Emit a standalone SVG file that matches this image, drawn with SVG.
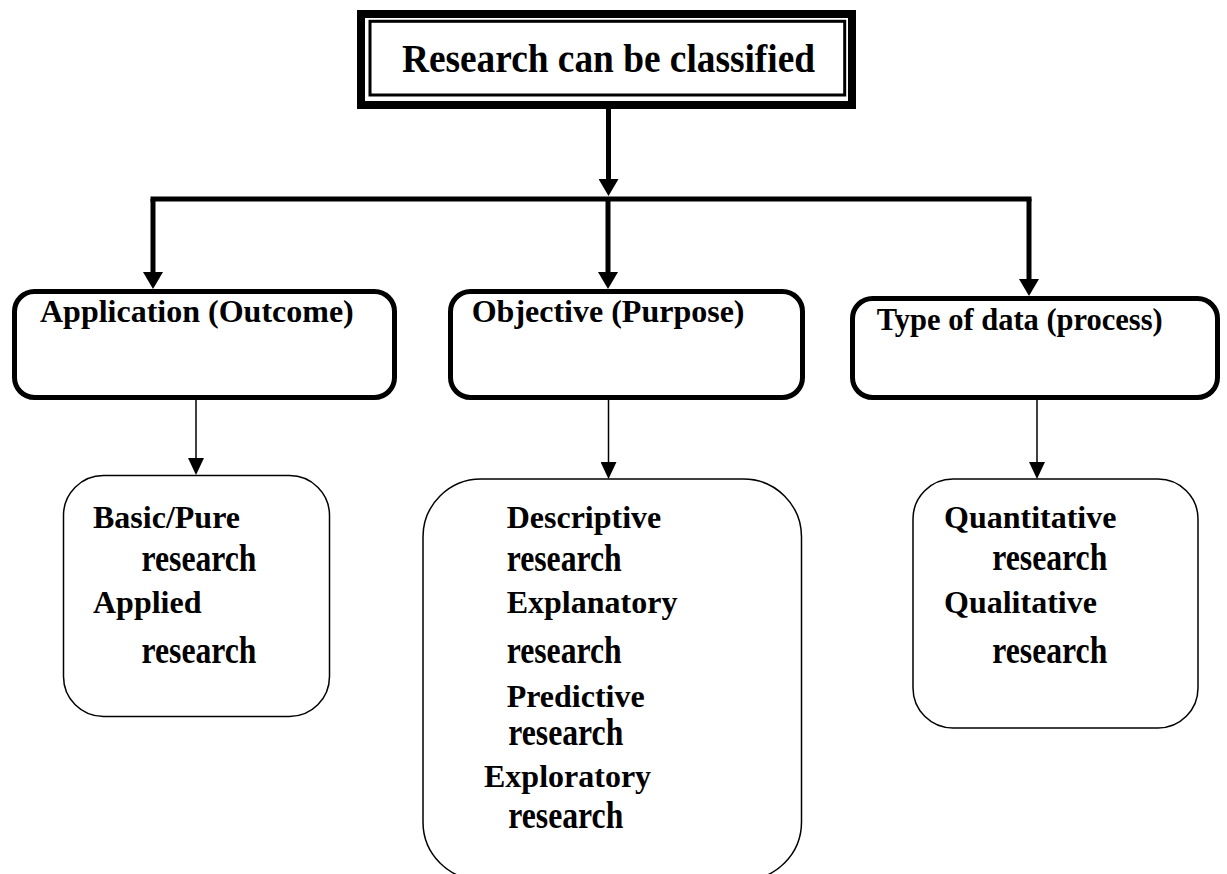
<svg xmlns="http://www.w3.org/2000/svg" width="1227" height="874" viewBox="0 0 1227 874">
<style>
  text { font-family: "Liberation Serif", "Times New Roman", serif; font-weight: bold; fill: #000; }
  .hdr { fill: #fff; stroke: #000; stroke-width: 5; }
  .sub { fill: #fff; stroke: #000; stroke-width: 1.5; }
  .thick { fill: none; stroke: #000; stroke-width: 5; }
  .thin { fill: none; stroke: #000; stroke-width: 1.5; }
  .t32 { font-size: 32px; }
  .res { font-size: 37px; }
</style>
<defs>
  <marker id="ahThick" markerUnits="userSpaceOnUse" viewBox="0 0 17 20" markerWidth="17" markerHeight="20" refX="5" refY="10" orient="auto">
    <path d="M0,0 L17,10 L0,20 z" fill="#000"/>
  </marker>
  <marker id="ahThin" markerUnits="userSpaceOnUse" viewBox="0 0 17 16" markerWidth="17" markerHeight="16" refX="3" refY="8" orient="auto">
    <path d="M0,0 L17,8 L0,16 z" fill="#000"/>
  </marker>
</defs>

<g id="connectors">
  <path class="thick" d="M608.5,109 V184" marker-end="url(#ahThick)"/>
  <path class="thick" d="M150.5,199 H1031.5"/>
  <path class="thick" d="M153,199 V277" marker-end="url(#ahThick)"/>
  <path class="thick" d="M608,199 V277" marker-end="url(#ahThick)"/>
  <path class="thick" d="M1029,199 V284" marker-end="url(#ahThick)"/>
  <path class="thin" d="M196,400 V461" marker-end="url(#ahThin)"/>
  <path class="thin" d="M608.5,400 V465" marker-end="url(#ahThin)"/>
  <path class="thin" d="M1037,400 V465" marker-end="url(#ahThin)"/>
</g>

<g id="root">
  <rect x="361" y="14" width="491" height="91" fill="#fff" stroke="#000" stroke-width="8"/>
  <rect x="370" y="21.3" width="474.7" height="73.7" fill="none" stroke="#000" stroke-width="3"/>
  <text x="402" y="72" font-size="40" textLength="413" lengthAdjust="spacingAndGlyphs">Research can be classified</text>
</g>

<g id="application">
  <rect class="hdr" x="14.5" y="291.5" width="380" height="106" rx="20"/>
  <text class="t32" x="40" y="321.7">Application (Outcome)</text>
</g>

<g id="objective">
  <rect class="hdr" x="450.5" y="291.5" width="352" height="106" rx="20"/>
  <text class="t32" x="471.7" y="321.7">Objective (Purpose)</text>
</g>

<g id="typeofdata">
  <rect class="hdr" x="852.5" y="298.5" width="365" height="99" rx="20"/>
  <text x="876.7" y="330" font-size="30.5">Type of data (process)</text>
</g>

<g id="application-types">
  <rect class="sub" x="63.5" y="475.5" width="266" height="241" rx="40"/>
  <text class="t32" x="93" y="528">Basic/Pure</text>
  <text class="res" x="141.5" y="570.5" textLength="115" lengthAdjust="spacingAndGlyphs">research</text>
  <text class="t32" x="93" y="613">Applied</text>
  <text class="res" x="141.5" y="663" textLength="115" lengthAdjust="spacingAndGlyphs">research</text>
</g>

<g id="objective-types">
  <rect class="sub" x="423" y="479" width="378.5" height="401" rx="58"/>
  <text class="t32" x="506.7" y="528">Descriptive</text>
  <text class="res" x="506.7" y="571" textLength="115" lengthAdjust="spacingAndGlyphs">research</text>
  <text class="t32" x="506.7" y="613">Explanatory</text>
  <text class="res" x="506.7" y="663" textLength="115" lengthAdjust="spacingAndGlyphs">research</text>
  <text class="t32" x="506.7" y="706.7">Predictive</text>
  <text class="res" x="508.3" y="745" textLength="115" lengthAdjust="spacingAndGlyphs">research</text>
  <text class="t32" x="484" y="787">Exploratory</text>
  <text class="res" x="508.3" y="828.3" textLength="115" lengthAdjust="spacingAndGlyphs">research</text>
</g>

<g id="data-types">
  <rect class="sub" x="913" y="479" width="285" height="249" rx="40"/>
  <text class="t32" x="944" y="528">Quantitative</text>
  <text class="res" x="992.3" y="570" textLength="115" lengthAdjust="spacingAndGlyphs">research</text>
  <text class="t32" x="944" y="613.3">Qualitative</text>
  <text class="res" x="992.3" y="663.3" textLength="115" lengthAdjust="spacingAndGlyphs">research</text>
</g>
</svg>
